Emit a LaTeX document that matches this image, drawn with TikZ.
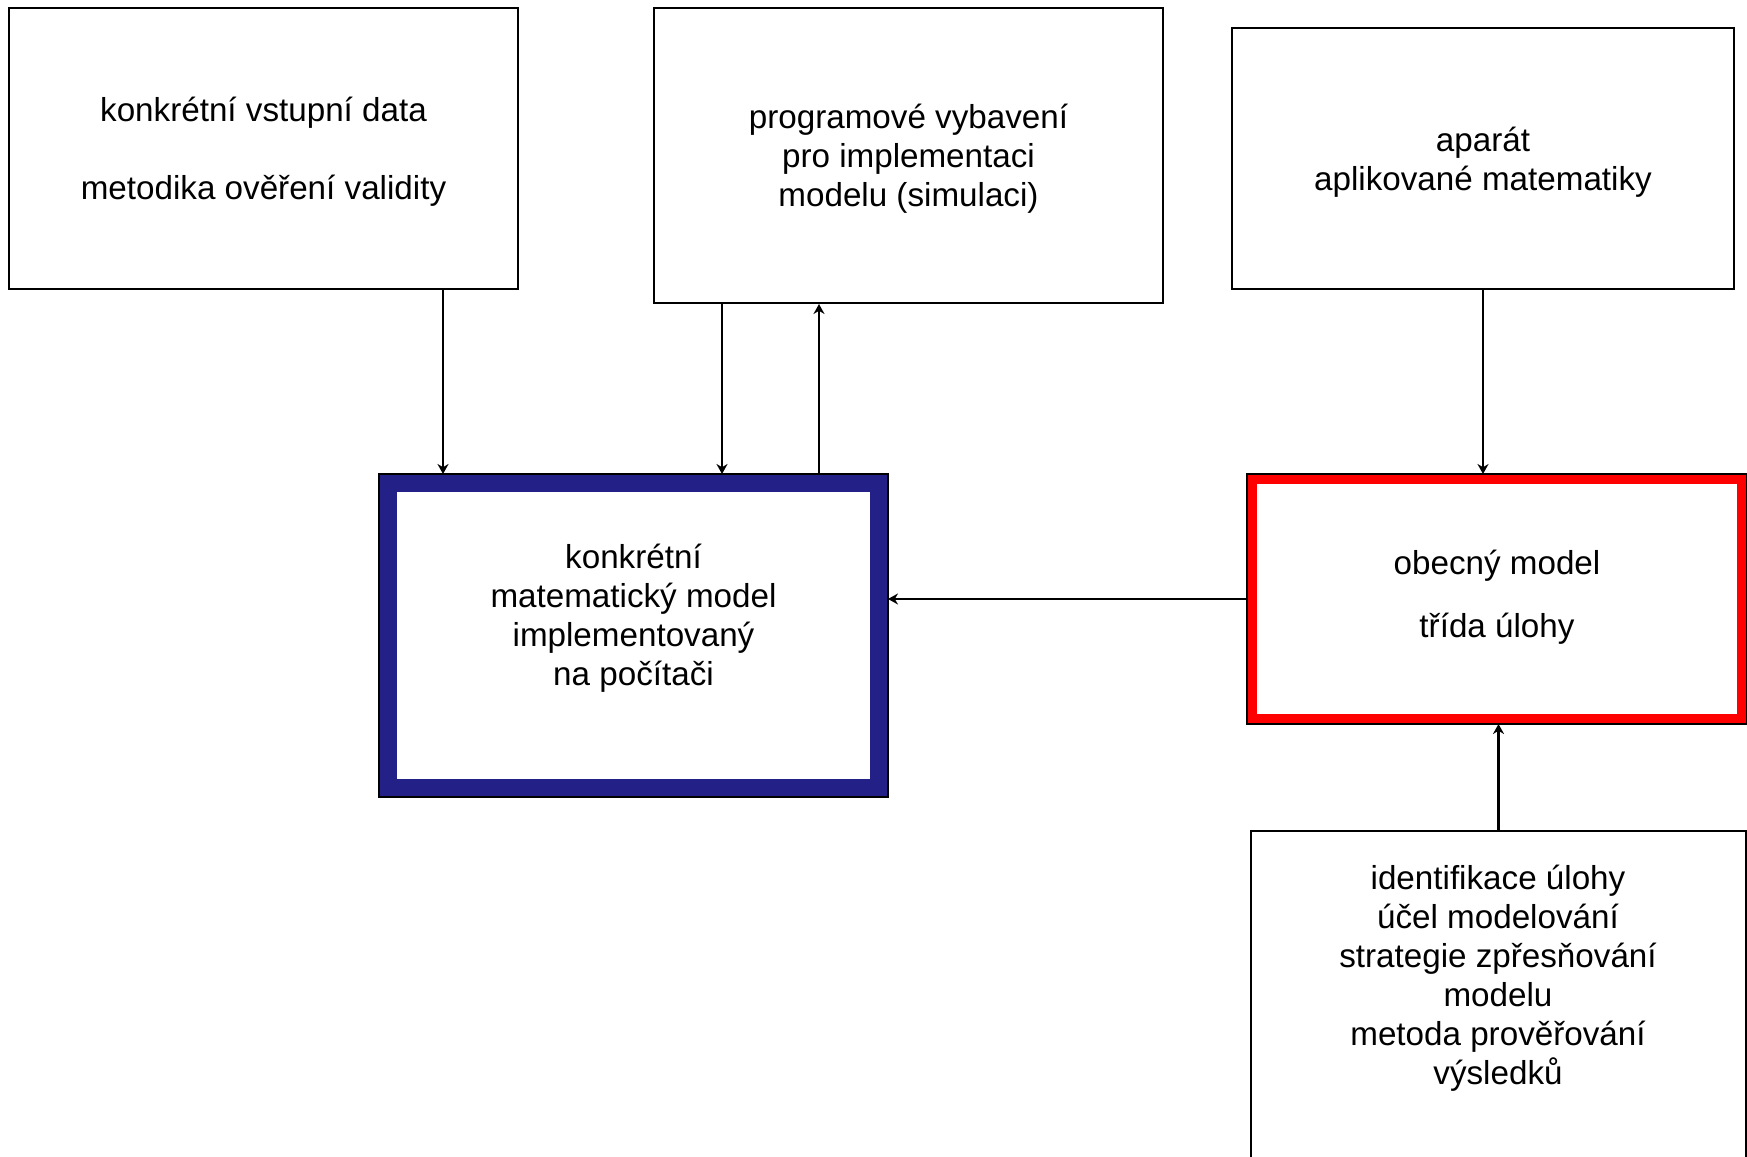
\documentclass[tikz,border=0pt]{standalone}
\usepackage{fontspec}
\setmainfont{Liberation Sans}
\usetikzlibrary{calc,arrows.meta}

\definecolor{modelblue}{RGB}{35,32,135}
\definecolor{modelred}{RGB}{255,0,0}

\tikzset{
	box/.style={draw, line width=1pt, align=center, font=\fontsize{16.6}{19.5}\selectfont},
	txt/.style={align=center, font=\fontsize{16.6}{19.5}\selectfont},
}

\begin{document}
\begin{tikzpicture}[x=0.5pt, y=-0.5pt, >={Stealth[length=5pt,width=5.5pt]}, line width=1.1pt]
		\useasboundingbox (0,0) rectangle (1747,1157);
		% upper row
		\node [box, minimum width=254.5pt, minimum height=140.5pt] (data) at (263.5,148.5) {};
		\node [txt] (datatext) at (263.5,152)
		{konkrétní vstupní data\\[19.5pt]metodika ověření validity};
		\node [box, minimum width=254.5pt, minimum height=147.5pt] (software) at (908.5,155.5) {};
		\node [txt] (softwaretext) at (908.5,159)
		{programové vybavení\\pro implementaci\\modelu (simulaci)};
		\node [box, minimum width=251pt, minimum height=130.5pt] (apparatus) at (1483,158.5) {};
		\node [txt] (apparatustext) at (1483,162)
		{aparát\\aplikované matematiky};
		% middle row
		\node [box, draw=modelblue, line width=9pt, minimum width=245.5pt, minimum height=152.5pt] (model) at (633.5,635.5) {};
		\draw [line width=0.6pt] (model.north west) rectangle (model.south east);
		\node [txt] (modeltext) at (633.5,618)
		{konkrétní\\matematický model\\implementovaný\\na počítači};
		\node [box, draw=modelred, line width=5pt, minimum width=245pt, minimum height=120pt] (general) at (1497,599) {};
		\draw [line width=0.6pt] (general.north west) rectangle (general.south east);
		\node [txt] (generaltext) at (1497,597)
		{obecný model\\[12pt]třída úlohy};
		% lower box
		\node [box, minimum width=247.5pt, minimum height=235pt] (task) at (1498.5,1066) {};
		\node [txt] (tasktext) at (1498,978)
		{identifikace úlohy\\účel modelování\\strategie zpřesňování\\modelu\\metoda prověřování\\výsledků};
		% connectors
		\draw [->] ([xshift=89.75pt]data.south) -- ([xshift=89.75pt]data.south |- model.north);
		\draw [->] ([xshift=-93.25pt]software.south) -- ([xshift=-93.25pt]software.south |- model.north);
		\draw [->] ([xshift=-44.75pt]software.south |- model.north) -- ([xshift=-44.75pt]software.south);
		\draw [->] (apparatus.south) -- (apparatus.south |- general.north);
		\draw [->] (general.west) -- (general.west -| model.east);
		\draw [->] (task.north) -- (task.north |- general.south);
		\end{tikzpicture}
\end{document}
